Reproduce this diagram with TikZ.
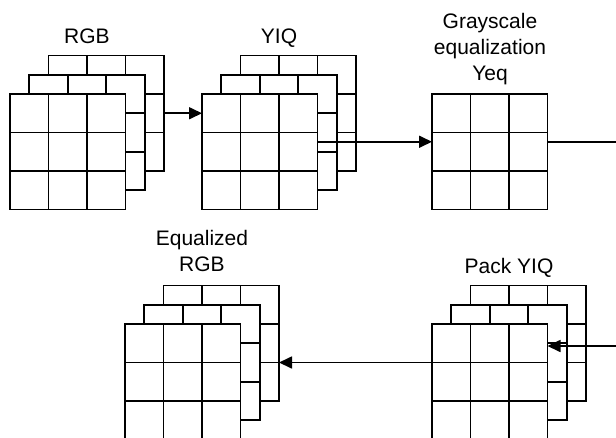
\documentclass[tikz,border=0pt]{standalone}
\usepackage{fontspec}
\setmainfont{Liberation Sans}
\usetikzlibrary{arrows.meta,calc}

\begin{document}
\begin{tikzpicture}[x=1pt, y=-1pt, line width=1.7pt,
    layer/.style={draw, fill=white, anchor=north west, inner sep=0pt, outer sep=0pt,
        minimum size=115.5pt, path picture={
        \foreach \t in {1,2} {
            \draw[line width=1.7pt] ($(path picture bounding box.north west)!\t/3!(path picture bounding box.north east)$)
               -- ($(path picture bounding box.south west)!\t/3!(path picture bounding box.south east)$);
            \draw[line width=1.7pt] ($(path picture bounding box.north west)!\t/3!(path picture bounding box.south west)$)
               -- ($(path picture bounding box.north east)!\t/3!(path picture bounding box.south east)$);
        }}},
    tag/.style={font=\fontsize{21}{26}\selectfont, inner sep=0pt, align=center},
    flow/.style={-{Triangle[length=13pt, width=12pt]}}]
    \useasboundingbox (0,0) rectangle (616,437);
    \clip (0,0) rectangle (616,437);

    % stacks of planes, back to front
    \foreach \i/\n in {2/back,1/mid,0/front} {
        \node[layer] (rgb\n) at (10+19.25*\i, 94-19.25*\i) {};
        \node[layer] (yiq\n) at (202+19.25*\i, 94-19.25*\i) {};
        \node[layer] (pack\n) at (432+19.25*\i, 324-19.25*\i) {};
        \node[layer] (eq\n) at (125+19.25*\i, 324-19.25*\i) {};
    }
    \node[layer] (yeq) at (432,94) {};

    % labels
    \node[tag, anchor=base] (rgbtag) at (87,43.3) {RGB};
    \node[tag, anchor=base] (yiqtag) at (279,43.3) {YIQ};
    \node[tag, anchor=south] (yeqtag) at (490,86) {Grayscale\\equalization\\Yeq};
    \node[tag, anchor=base] (packtag) at (509,273) {Pack YIQ};
    \node[tag, anchor=south] (eqtag) at (202,272.3) {Equalized\\RGB};

    % connectors
    \coordinate (bend) at (640,250);
    \draw[flow] (rgbback.east) -- (rgbback.east -| yiqfront.west);
    \draw[flow] ([yshift=10pt]yiqfront.east) -- ([yshift=10pt]yeq.west);
    \draw[flow] ([yshift=10pt]yeq.east) -| (bend) |- ([yshift=35.75pt]packfront.east);
    \draw[flow] (packmid.west -| packfront.west) -- (packmid.west -| eqback.east);
\end{tikzpicture}
\end{document}
